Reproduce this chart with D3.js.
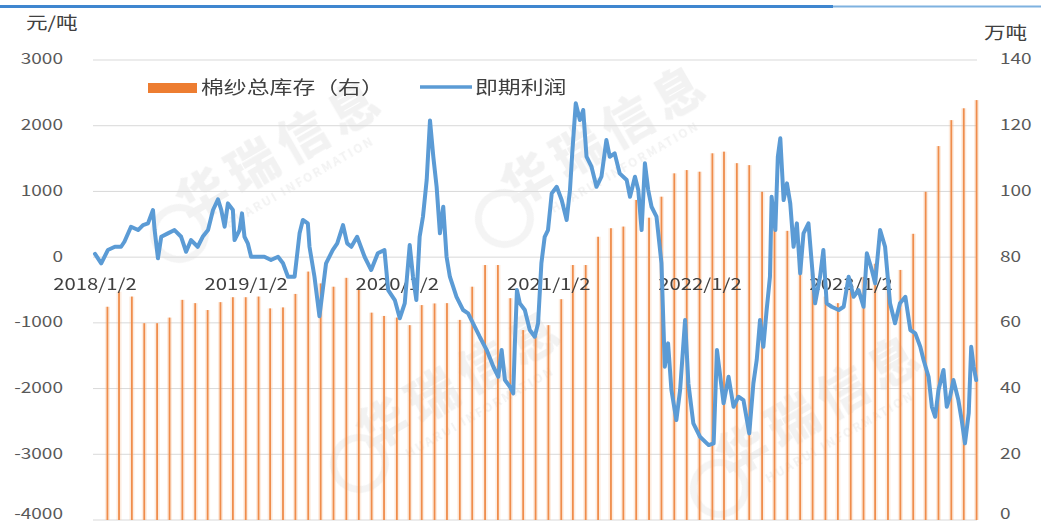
<!DOCTYPE html>
<html><head><meta charset="utf-8">
<script src="https://cdn.jsdelivr.net/npm/d3@7"></script>
<style>body{margin:0;background:#fff}svg{display:block}</style>
</head><body>
<svg id="chart" width="1041" height="528"></svg>
<script>
// ---------- DATA ----------
const lineDates = ["2018-01-02","2018-01-17","2018-02-02","2018-02-19","2018-03-06","2018-03-14","2018-03-30","2018-04-16","2018-04-28","2018-05-10","2018-05-22","2018-05-26","2018-06-03","2018-06-11","2018-06-27","2018-07-13","2018-07-29","2018-08-10","2018-08-22","2018-09-07","2018-09-19","2018-10-02","2018-10-14","2018-10-26","2018-11-03","2018-11-11","2018-11-19","2018-12-01","2018-12-05","2018-12-17","2018-12-23","2018-12-29",
"2019-01-06","2019-01-14","2019-01-30","2019-02-15","2019-03-03","2019-03-20","2019-04-01","2019-04-13","2019-04-29","2019-05-11","2019-05-19","2019-05-31","2019-06-04","2019-06-16","2019-06-28","2019-07-06","2019-07-14","2019-07-30","2019-08-10","2019-08-24","2019-09-03","2019-09-13","2019-09-27","2019-10-15","2019-10-31","2019-11-16","2019-12-02","2019-12-11","2019-12-27",
"2020-01-08","2020-01-20","2020-02-01","2020-02-09","2020-02-17","2020-02-25","2020-03-04","2020-03-13","2020-03-21","2020-03-29","2020-04-06","2020-04-14","2020-04-22","2020-04-30","2020-05-08","2020-05-24","2020-06-09","2020-06-21","2020-07-03","2020-07-19","2020-08-05","2020-08-21","2020-09-02","2020-09-10","2020-09-18","2020-09-30","2020-10-08","2020-10-12","2020-10-17","2020-10-24","2020-11-05","2020-11-17","2020-11-29","2020-12-07","2020-12-15","2020-12-23","2020-12-31",
"2021-01-09","2021-01-21","2021-02-02","2021-02-14","2021-02-22","2021-02-28","2021-03-08","2021-03-18","2021-03-26","2021-04-03","2021-04-15","2021-04-27","2021-05-09","2021-05-21","2021-05-29","2021-06-10","2021-06-22","2021-07-09","2021-07-17","2021-07-29","2021-08-06","2021-08-14","2021-08-22","2021-08-30","2021-09-07","2021-09-19","2021-10-01","2021-10-09","2021-10-17","2021-10-25","2021-11-06","2021-11-15","2021-11-27","2021-12-05","2021-12-17",
"2022-01-02","2022-01-23","2022-02-04","2022-02-12","2022-02-20","2022-02-28","2022-03-12","2022-03-24","2022-04-05","2022-04-17","2022-05-01","2022-05-11","2022-05-19","2022-05-27","2022-06-04","2022-06-12","2022-06-20","2022-06-24","2022-07-03","2022-07-09","2022-07-15","2022-07-23","2022-07-31","2022-08-08","2022-08-16","2022-08-24","2022-09-01","2022-09-09","2022-09-21","2022-09-29","2022-10-07","2022-10-19","2022-10-27","2022-11-04","2022-11-16","2022-12-03","2022-12-15","2022-12-27",
"2023-01-08","2023-01-20","2023-02-01","2023-02-09","2023-02-21","2023-03-01","2023-03-13","2023-03-25","2023-04-06","2023-04-18","2023-04-30","2023-05-13","2023-05-25","2023-06-06","2023-06-18","2023-06-26","2023-07-08","2023-07-16","2023-07-24","2023-08-01","2023-08-13","2023-08-21","2023-08-29","2023-09-06","2023-09-18","2023-09-26","2023-10-04","2023-10-13","2023-10-19","2023-10-25","2023-10-31"];
const lineValues = [50,-94,108,158,158,234,463,412,488,514,717,412,-18,310,362,412,310,82,260,158,310,412,717,880,717,463,818,717,260,412,666,310,
210,6,6,6,-44,6,-94,-298,-298,362,565,514,158,-298,-900,-501,-94,108,210,488,210,158,310,6,-196,58,108,-501,-653,
-930,-703,184,-298,-653,310,615,1173,2080,1528,1071,362,767,6,-298,-603,-805,-855,-1007,-1211,-1414,-1668,-1820,-1414,-1870,-1972,-2073,-1312,-501,-703,-805,-1109,-1211,-1007,-94,310,412,
971,1071,869,565,1021,1630,2341,2087,2239,1528,1376,1071,1224,1782,1528,1579,1275,1173,919,1224,1021,412,1427,1021,767,615,-94,-1668,-1312,-2022,-2479,-2022,-957,-1921,-2530,
-2733,-2860,-2834,-1414,-1820,-2225,-1820,-2277,-2124,-2175,-2682,-1921,-1566,-957,-1363,-805,-298,919,412,1528,1808,869,1123,818,158,514,-247,362,514,-94,-703,-298,108,-703,-755,-805,-755,-298,
-603,-501,-755,58,-196,-399,412,158,-703,-1007,-703,-603,-1109,-1160,-1363,-1566,-1820,-2277,-2429,-2022,-1718,-2277,-2124,-1870,-2175,-2479,-2834,-2377,-1363,-1668,-1870];

const barDates = ["2018-02","2018-03","2018-04","2018-05","2018-06","2018-07","2018-08","2018-09","2018-10","2018-11","2018-12",
"2019-01","2019-02","2019-03","2019-04","2019-05","2019-06","2019-07","2019-08","2019-09","2019-10","2019-11","2019-12",
"2020-01","2020-02","2020-03","2020-04","2020-05","2020-06","2020-07","2020-08","2020-09","2020-10","2020-11","2020-12",
"2021-01","2021-02","2021-03","2021-04","2021-05","2021-06","2021-07","2021-08","2021-09","2021-10","2021-11","2021-12",
"2022-01","2022-02","2022-03","2022-04","2022-05","2022-06","2022-07","2022-08","2022-09","2022-10","2022-11","2022-12",
"2023-01","2023-02","2023-03","2023-04","2023-05","2023-06","2023-07","2023-08","2023-09","2023-10","2023-11"];
const barValues = [64.9,69.5,68.0,59.9,59.9,61.6,67.0,66.0,63.9,66.3,67.8,
67.8,68.0,64.4,64.7,68.8,75.6,72,71.0,73.7,70.2,63.1,62.1,
61.6,59.3,65.4,65.9,66,60.9,71.0,77.6,77.6,67.5,57.8,56,
59.3,67.2,77.6,77.6,86.2,88.8,89.3,97.4,92,98.4,105.5,106.5,
106.0,111.6,112.1,108.6,108.0,99.9,95,88,82,75,68,66,
70,74,78,74,76.1,87.1,99.9,113.8,121.7,125.3,127.8];

const leftTicks = [3000,2000,1000,0,-1000,-2000,-3000,-4000];
const rightTicks = [140,120,100,80,60,40,20,0];
const xTickDates = ["2018-01-02","2019-01-02","2020-01-02","2021-01-02","2022-01-02","2023-01-02"];
const xTickLabels = ["2018/1/2","2019/1/2","2020/1/2","2021/1/2","2022/1/2","2023/1/2"];
const seriesNames = ["棉纱总库存（右）","即期利润"];
const leftUnit = "元/吨", rightUnit = "万吨";
const watermarkText = "华瑞信息", watermarkSub = "HUARUI INFORMATION";

// ---------- LAYOUT ----------
const svg = d3.select("#chart");
const W = 1041, H = 528;
const plotL = 93, plotR = 977, plotT = 60, plotB = 520;
const FONT = "'Noto Sans CJK SC','Noto Sans',sans-serif";
const SX = 1.27;
const parse = d3.timeParse("%Y-%m-%d");
const parseM = d3.timeParse("%Y-%m");

const x = d3.scaleTime().domain([parse("2018-01-02"), parse("2023-11-02")]).range([95, plotR]);
const yL = d3.scaleLinear().domain([-4000, 3000]).range([plotB, plotT]);
const yR = d3.scaleLinear().domain([0, 140]).range([plotB, plotT]);

svg.append("rect").attr("width", W).attr("height", H).attr("fill", "#fff");

function label(g, px, py, txt, anchor, size, color, sx) {
  g.append("g").attr("transform", `translate(${px},${py}) scale(${sx||SX},1)`)
    .append("text").attr("text-anchor", anchor).attr("dy", "0.36em")
    .attr("font-family", FONT).attr("font-size", size).attr("fill", color).text(txt);
}

// top rule
svg.append("line").attr("x1", 0).attr("x2", 833).attr("y1", 6.5).attr("y2", 6.5).attr("stroke", "#3f86cf").attr("stroke-width", 3);
svg.append("line").attr("x1", 833).attr("x2", W).attr("y1", 6.5).attr("y2", 6.5).attr("stroke", "#7fb2e0").attr("stroke-width", 2);

// watermarks
const wm = svg.append("g").attr("opacity", 0.085);
[[290,165],[615,150],[470,395],[830,420]].forEach(([cx,cy]) => {
  const g = wm.append("g").attr("transform", `translate(${cx},${cy}) rotate(-30)`);
  g.append("circle").attr("cx", -130).attr("cy", 4).attr("r", 26).attr("fill", "none").attr("stroke", "#777").attr("stroke-width", 7);
  g.append("text").attr("text-anchor", "middle").attr("font-family", FONT).attr("font-weight", 900)
    .attr("font-size", 50).attr("fill", "#666").attr("letter-spacing", 8).text(watermarkText);
  g.append("text").attr("text-anchor", "middle").attr("y", 24).attr("font-family", FONT).attr("font-weight", 700)
    .attr("font-size", 12).attr("fill", "#666").attr("letter-spacing", 2).text(watermarkSub);
});

// gridlines
const grid = svg.append("g");
leftTicks.forEach(t => {
  grid.append("line").attr("x1", plotL).attr("x2", plotR).attr("y1", yL(t)).attr("y2", yL(t))
    .attr("stroke", "#d9d9d9").attr("stroke-width", 1);
});

// bars (soft halo + core)
const barData = barDates.map((d,i)=>({d:parseM(d), v:barValues[i]}));
const bars = svg.append("g");
bars.selectAll("rect.h").data(barData).join("rect").attr("class","h")
  .attr("x", d => x(d.d) - 2.5).attr("width", 5)
  .attr("y", d => yR(d.v)).attr("height", d => yR(0) - yR(d.v))
  .attr("fill", "#f6b37f").attr("opacity", 0.25);
bars.selectAll("rect.c").data(barData).join("rect").attr("class","c")
  .attr("x", d => x(d.d) - 0.9).attr("width", 1.8)
  .attr("y", d => yR(d.v)).attr("height", d => yR(0) - yR(d.v))
  .attr("fill", "#ef8d4c");

// axis labels
const ax = svg.append("g");
leftTicks.forEach(t => label(ax, 63, Math.min(yL(t) - 1, 514), String(t), "end", 15, "#595959"));
rightTicks.forEach(t => label(ax, 1000, Math.min(yR(t) - 1, 514), String(t), "start", 15, "#595959"));
xTickDates.forEach((d,i) => label(ax, x(parse(d)), 284, xTickLabels[i], "middle", 16, "#404040"));
label(ax, 26, 23, leftUnit, "start", 17, "#404040");
label(ax, 984, 33, rightUnit, "start", 17, "#404040");

// line
const lineData = lineDates.map((d,i)=>({d:parse(d), v:lineValues[i]}));
svg.append("path").datum(lineData)
  .attr("d", d3.line().x(d => x(d.d)).y(d => yL(d.v)))
  .attr("fill", "none").attr("stroke", "#5b9bd5").attr("stroke-width", 4)
  .attr("stroke-linejoin", "round").attr("stroke-linecap", "round");

// legend
const lg = svg.append("g");
lg.append("rect").attr("x", 148).attr("y", 83).attr("width", 49).attr("height", 10).attr("fill", "#ed7d31");
label(lg, 201, 88, seriesNames[0], "start", 18, "#404040");
lg.append("line").attr("x1", 420).attr("x2", 472).attr("y1", 87).attr("y2", 87).attr("stroke", "#5b9bd5").attr("stroke-width", 3.6);
label(lg, 475, 88, seriesNames[1], "start", 18, "#404040");
</script>
</body></html>
